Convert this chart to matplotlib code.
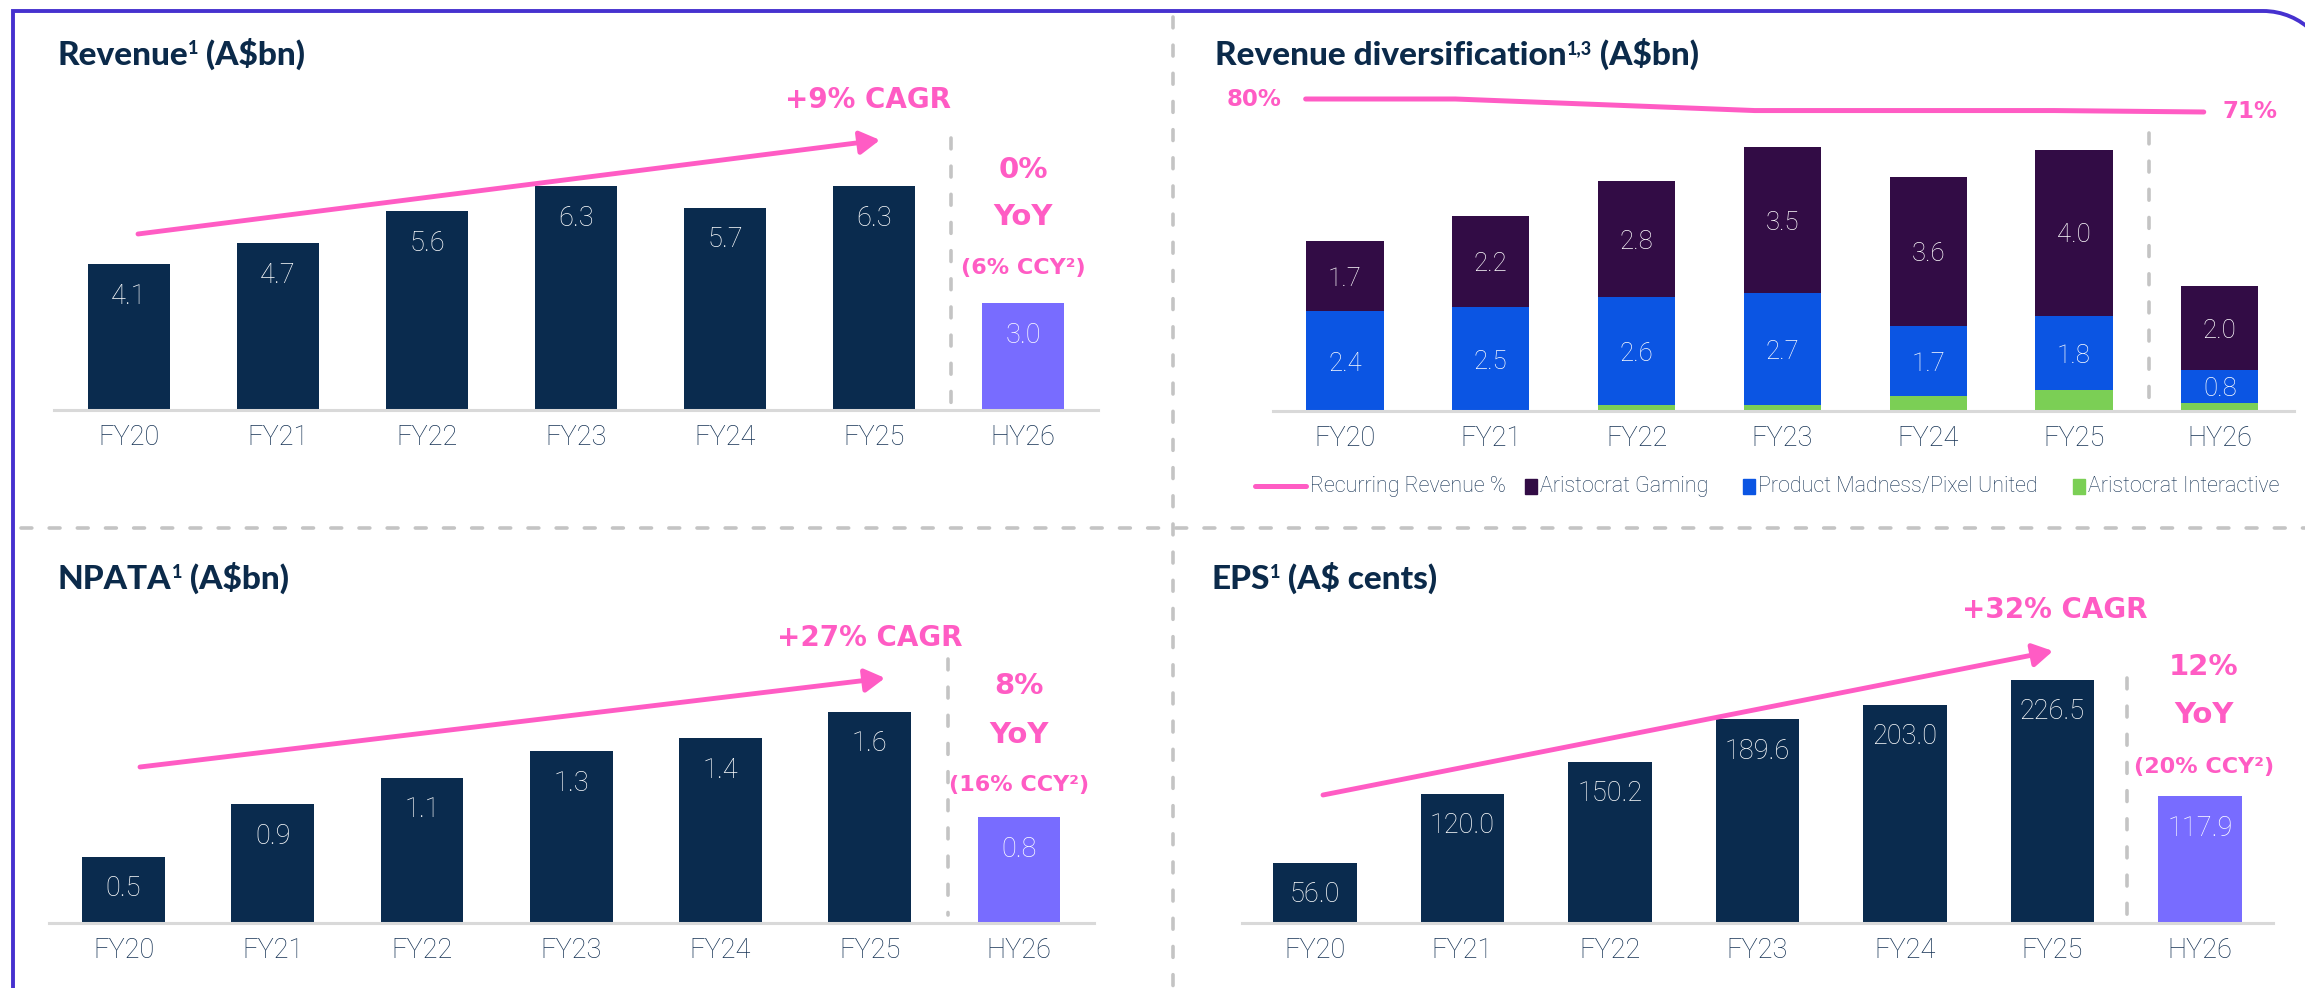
import numpy as np
import matplotlib
matplotlib.use("Agg")
import matplotlib.pyplot as plt
from matplotlib.transforms import Affine2D
from matplotlib.patches import PathPatch, FancyArrowPatch, Rectangle
from matplotlib.path import Path
from matplotlib.lines import Line2D

# ---- data -------------------------------------------------------------
YEARS = ["FY20", "FY21", "FY22", "FY23", "FY24", "FY25", "HY26"]
REVENUE = [4.1, 4.7, 5.6, 6.3, 5.7, 6.3, 3.0]
NPATA = [0.5, 0.9, 1.1, 1.3, 1.4, 1.6, 0.8]
EPS = [56.0, 120.0, 150.2, 189.6, 203.0, 226.5, 117.9]
GAMING = [1.7, 2.2, 2.8, 3.5, 3.6, 4.0, 2.0]
PMPU = [2.4, 2.5, 2.6, 2.7, 1.7, 1.8, 0.8]
INTERACTIVE = [0.0, 0.0, 0.15, 0.15, 0.35, 0.5, 0.2]
RECURRING = [80, 80, 76, 72, 72, 72, 71]

# ---- style ------------------------------------------------------------
NAVY = "#0A2B4E"
HY_PURPLE = "#786CFF"
PINK = "#FF5CC4"
TITLE = "#0B2A4A"
TICK = "#163355"
BASELINE = "#D9D9D9"
DIVIDER = "#C4C4C4"
BORDER = "#4631CF"
C_GAMING = "#320C45"
C_PMPU = "#0B55E3"
C_INTER = "#7BCF55"
HEAD = ["Lato", "DejaVu Sans"]
ACCENT = ["DejaVu Sans"]
BODY = ["Roboto", "DejaVu Sans"]

W, H = 2305, 988
fig = plt.figure(figsize=(W / 100, H / 100), dpi=100)
fig.patch.set_facecolor("white")
# pixel coords, y measured from the top
PX = Affine2D().scale(1 / W, -1 / H).translate(0, 1) + fig.transFigure
renderer = fig.canvas.get_renderer()


def panel(left, right, base, top, c0, step, ppu):
    ax = fig.add_axes([left / W, 1 - base / H, (right - left) / W, (base - top) / H])
    ax.set_xlim((left - c0) / step, (right - c0) / step)
    ax.set_ylim(0, (base - top) / ppu)
    for s in ax.spines.values():
        s.set_visible(False)
    ax.set_yticks([])
    ax.set_xticks(range(len(YEARS)))
    ax.set_xticklabels(YEARS, fontsize=19.5, color=TICK, family=BODY, fontweight="light")
    ax.tick_params(axis="x", length=0, pad=10)
    ax.axhline(0, color=BASELINE, lw=2.2, zorder=4, clip_on=False)
    ax.patch.set_alpha(0)
    return ax


def value_labels(ax, xs, tops, vals, size=19.5, dy=-23):
    for x, t, v in zip(xs, tops, vals):
        ax.annotate(f"{v:.1f}", (x, t), xytext=(0, dy), textcoords="offset points",
                    ha="center", va="center", color="white", fontsize=size,
                    family=BODY, fontweight="light", zorder=5)


def title(x, y, parts):
    # parts: (text, size, raise_px)
    for txt, size, rise in parts:
        t = fig.text(x, y - rise, txt, transform=PX, fontsize=size, color=TITLE,
                     family=HEAD, fontweight="black", va="baseline", ha="left")
        x += t.get_window_extent(renderer).width


def pink(x, y, s, size):
    fig.text(x, y, s, transform=PX, fontsize=size, color=PINK, family=ACCENT,
             fontweight="bold", ha="center", va="center")


def dashed(x0, y0, x1, y1):
    fig.add_artist(Line2D([x0, x1], [y0, y1], transform=PX, color=DIVIDER, lw=2.6,
                          dashes=(3.0, 4.8), dash_capstyle="round"))


def arrow(x0, y0, x1, y1):
    fig.add_artist(FancyArrowPatch((x0, y0), (x1, y1), transform=PX,
                                   arrowstyle="-|>,head_length=0.6,head_width=0.35",
                                   mutation_scale=20, lw=3.5, color=PINK,
                                   shrinkA=0, shrinkB=0))


x = np.arange(len(YEARS))
bar_colors = [NAVY] * 6 + [HY_PURPLE]

# ---- border and dividers ---------------------------------------------
r = 70
k = 0.552 * r
verts = [(13, 1000), (13, 11), (2333 - r, 11), (2333 - r + k, 11), (2333, 11 + r - k),
         (2333, 11 + r), (2333, 1000)]
codes = [Path.MOVETO, Path.LINETO, Path.LINETO, Path.CURVE4, Path.CURVE4, Path.CURVE4,
         Path.LINETO]
fig.add_artist(PathPatch(Path(verts, codes), transform=PX, fill=False, ec=BORDER, lw=2.8))
dashed(1173, 17, 1173, 990)
dashed(21, 528, 2305, 528)

# ---- Revenue ------------------------------------------------------------
ax1 = panel(54, 1098, 410, 60, 129, 149, 35.5)
ax1.bar(x, REVENUE, width=0.557, color=bar_colors, zorder=2)
value_labels(ax1, x, REVENUE, REVENUE)
title(57, 65, [("Revenue", 24, 0), ("1", 13, 11), (" (A$bn)", 24, 0)])
arrow(138, 234, 880, 140)
pink(868, 100, "+9% CAGR", 20)
dashed(951, 138, 951, 405)
pink(1023, 170, "0%", 21)
pink(1023, 217, "YoY", 21)
pink(1023, 268, "(6% CCY²)", 16)

# ---- Revenue diversification --------------------------------------------
ax2 = panel(1273, 2294, 411, 60, 1345, 145.8, 41.5)
bot = np.zeros(len(YEARS))
for vals, col in [(INTERACTIVE, C_INTER), (PMPU, C_PMPU), (GAMING, C_GAMING)]:
    ax2.bar(x, vals, width=0.53, bottom=bot, color=col, zorder=2)
    if col != C_INTER:
        mids = bot + np.array(vals) / 2
        value_labels(ax2, x, mids, vals, size=18.5, dy=-2)
    bot = bot + np.array(vals)
title(1215, 65, [("Revenue diversification", 24, 0), ("1,3", 13, 11), (" (A$bn)", 24, 0)])

twin = ax2.twinx()
twin.set_ylim(80 - (411 - 99) / 1.444, 80 + (99 - 60) / 1.444)
twin.set_yticks([])
for s in twin.spines.values():
    s.set_visible(False)
twin.plot(np.linspace(-0.27, 5.89, len(YEARS)), RECURRING, color=PINK, lw=3.6,
          solid_capstyle="round", zorder=3)
pink(1254, 99, f"{RECURRING[0]}%", 16.5)
pink(2250, 112, f"{RECURRING[-1]}%", 16.5)
dashed(2149, 133, 2149, 400)

# legend
fig.add_artist(Line2D([1255, 1306], [486, 486], transform=PX, color=PINK, lw=3.6,
                      solid_capstyle="round"))
leg = [(None, "Recurring Revenue %", 1310), (C_GAMING, "Aristocrat Gaming", 1525),
       (C_PMPU, "Product Madness/Pixel United", 1743),
       (C_INTER, "Aristocrat Interactive", 2073)]
for col, lab, lx in leg:
    tx = lx
    if col is not None:
        fig.add_artist(Rectangle((lx, 479), 12, 15, transform=PX, color=col))
        tx = lx + 15
    fig.text(tx, 486, lab, transform=PX, fontsize=15.5, color=TICK, family=BODY,
             fontweight="light", ha="left", va="center")

# ---- NPATA ----------------------------------------------------------------
ax3 = panel(49, 1094, 923, 600, 123.5, 149.25, 132)
ax3.bar(x, NPATA, width=0.556, color=bar_colors, zorder=2)
value_labels(ax3, x, NPATA, NPATA)
title(58, 589, [("NPATA", 24, 0), ("1", 13, 11), (" (A$bn)", 24, 0)])
arrow(140, 767, 885, 678)
pink(870, 638, "+27% CAGR", 20)
dashed(948, 659, 948, 915)
pink(1019, 686, "8%", 21)
pink(1019, 735, "YoY", 21)
pink(1019, 785, "(16% CCY²)", 16)

# ---- EPS -------------------------------------------------------------------
ax4 = panel(1242, 2273, 923, 600, 1315, 147.5, 1.075)
ax4.bar(x, EPS, width=0.563, color=bar_colors, zorder=2)
value_labels(ax4, x, EPS, EPS)
title(1211, 589, [("EPS", 24, 0), ("1", 13, 11), (" (A$ cents)", 24, 0)])
arrow(1323, 795, 2053, 651)
pink(2055, 610, "+32% CAGR", 20)
dashed(2127, 678, 2127, 915)
pink(2204, 667, "12%", 21)
pink(2204, 715, "YoY", 21)
pink(2204, 767, "(20% CCY²)", 16)

fig.savefig("out.png", dpi=100, facecolor="white")
